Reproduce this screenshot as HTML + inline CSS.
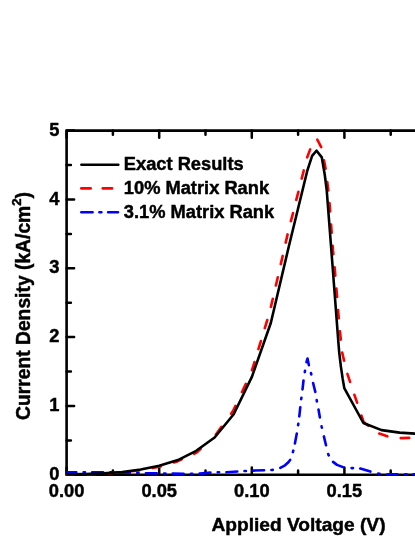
<!DOCTYPE html>
<html><head><meta charset="utf-8"><title>Chart</title>
<style>html,body{margin:0;padding:0;background:#fff;}body{width:415px;height:537px;overflow:hidden;font-family:"Liberation Sans",sans-serif;}svg{display:block;will-change:transform;}</style>
</head><body>
<svg width="415" height="537" viewBox="0 0 415 537">
<rect width="415" height="537" fill="#fff"/>
<path d="M66.6,474.8 V130.6 H420 M66.6,474.8 H420" stroke="#000" stroke-width="2.6" fill="none" stroke-linejoin="round" stroke-linecap="round"/>
<path d="M66.6,474.8 h7.5 M66.6,440.4 h4.3 M66.6,406.0 h7.5 M66.6,371.5 h4.3 M66.6,337.1 h7.5 M66.6,302.7 h4.3 M66.6,268.3 h7.5 M66.6,233.9 h4.3 M66.6,199.4 h7.5 M66.6,165.0 h4.3 M66.6,130.6 h7.5 M66.6,474.8 v-7.2 M66.6,130.6 v7.2 M112.9,474.8 v-4.2 M112.9,130.6 v4.2 M159.2,474.8 v-7.2 M159.2,130.6 v7.2 M205.5,474.8 v-4.2 M205.5,130.6 v4.2 M251.8,474.8 v-7.2 M251.8,130.6 v7.2 M298.1,474.8 v-4.2 M298.1,130.6 v4.2 M344.4,474.8 v-7.2 M344.4,130.6 v7.2 M390.7,474.8 v-4.2 M390.7,130.6 v4.2" stroke="#000" stroke-width="2.5" fill="none" stroke-linecap="round"/>
<clipPath id="c"><rect x="66.6" y="130.6" width="360" height="345.6"/></clipPath><g clip-path="url(#c)">
<path d="M66.6,474.6 L73.5,474.5 M87.1,474.2 L95.5,474.0 M109.0,473.3 L117.4,472.5 M130.9,471.3 L139.3,470.5 M152.7,468.1 L159.2,466.8 L160.9,466.3 M173.9,462.4 L177.9,461.2 L181.7,459.4 M194.1,453.8 L196.4,452.7 L200.7,448.8 M215.9,434.5 L221.5,426.8 M231.1,413.7 L233.0,411.0 L235.5,405.8 M242.0,392.0 L245.9,383.8 M252.0,370.2 L254.5,362.1 M258.4,349.1 L260.9,341.1 M264.8,328.1 L267.3,320.0 M270.9,306.9 L272.8,298.8 M275.9,285.5 L277.8,277.3 M280.8,264.1 L282.7,255.9 M285.7,242.6 L287.6,234.4 M290.9,221.2 L293.0,213.1 M296.3,199.9 L298.4,191.8 M301.7,178.6 L303.8,170.4 M307.2,157.3 L310.2,149.4 M317.3,139.7 L321.2,147.1 M324.0,160.3 L325.6,168.6 M327.3,182.1 L328.4,190.4 M329.5,203.1 L329.9,207.2 L330.2,211.4 M331.1,224.5 L331.4,228.5 L331.7,232.8 M332.7,245.9 L333.0,250.4 L333.4,254.2 M334.6,267.2 L335.0,271.3 L335.3,275.6 M336.4,288.6 L336.7,292.3 L337.1,297.0 M338.1,310.0 L338.4,314.0 L338.8,318.3 M340.0,331.3 L340.4,335.4 L340.8,339.7 M342.2,352.6 L344.1,360.7 M347.4,373.9 L350.1,381.9 M354.4,394.8 L357.1,402.7 M361.5,415.6 L363.6,421.9 L365.0,423.0 M366.1,423.9 L368.4,425.7 M379.3,433.6 L387.3,436.3 M400.8,438.1 L408.9,437.9 L409.2,437.9" fill="none" stroke="#ff0000" stroke-width="2.6" stroke-linecap="round" stroke-linejoin="round"/>
<path d="M66.4,472.2 L76.3,472.2 M83.6,472.3 L85.0,472.3 M92.2,472.3 L103.1,472.4 M110.4,472.4 L111.8,472.4 M119.0,472.6 L129.9,472.8 M137.2,473.0 L138.6,473.0 M145.9,473.2 L150.0,473.3 L156.8,473.4 M164.1,473.5 L165.5,473.5 M172.7,473.6 L183.6,473.7 M190.9,473.7 L192.3,473.7 M199.6,473.6 L200.0,473.6 L210.4,472.6 M217.7,472.3 L219.1,472.3 M226.4,472.2 L237.3,471.5 M244.5,471.0 L245.9,471.0 M253.2,470.6 L264.1,470.2 M271.4,470.0 L272.1,470.0 L272.8,469.9 M280.3,467.8 L285.0,465.3 L288.4,462.2 L290.1,459.9 M292.9,452.1 L293.1,451.4 L293.3,450.7 M294.9,443.4 L296.8,433.5 M298.1,425.2 L298.2,424.5 L298.3,423.8 M299.3,416.4 L300.3,407.2 M301.2,399.1 L301.3,398.4 L301.4,397.7 M302.5,389.4 L303.5,380.5 M304.8,372.1 L304.9,371.4 L305.0,370.7 M306.5,362.2 L307.5,358.6 L308.9,365.2 M311.0,373.1 L311.2,373.8 L311.3,374.5 M313.1,383.0 L315.3,391.9 M316.7,400.1 L316.8,400.8 L316.9,401.5 M318.5,409.6 L319.9,417.4 M321.6,426.3 L321.7,427.0 L321.9,427.7 M323.9,436.4 L326.0,445.3 M328.2,454.0 L328.4,454.7 L328.7,455.3 M333.1,461.9 L337.0,464.9 L343.0,467.1 M351.6,468.1 L352.3,468.1 L353.0,468.1 M360.3,468.5 L370.4,471.6 M378.2,473.5 L378.9,473.7 L379.6,473.8 M387.4,474.3 L397.3,474.3 M405.2,474.3 L406.6,474.3 M413.4,474.3 L418.7,474.3" fill="none" stroke="#0000ff" stroke-width="2.6" stroke-linecap="round" stroke-linejoin="round"/>
<path d="M66.6,474.4 L85.1,474.1 L103.6,473.4 L122.2,472.0 L140.7,469.5 L159.2,465.7 L177.9,460.1 L196.2,450.8 L214.6,437.5 L233.7,414.2 L252.0,376.6 L270.8,323.0 L288.8,246.5 L307.4,170.3 L312.1,155.8 L316.6,150.7 L321.8,157.4 L324.8,175.0 L326.7,190.0 L332.1,260.0 L338.2,340.0 L339.2,352.3 L340.9,366.6 L342.7,378.9 L344.3,388.1 L363.4,423.0 L381.6,430.1 L399.6,432.6 L415.0,433.6 L420.0,433.8" fill="none" stroke="#000" stroke-width="2.6" stroke-linejoin="round"/>
</g>
<g font-family="Liberation Sans, sans-serif" font-weight="bold" font-size="18.3" fill="#000" stroke="#000" stroke-width="0.45" stroke-linejoin="round">
<text x="59.3" y="479.9" text-anchor="end">0</text>
<text x="59.3" y="411.1" text-anchor="end">1</text>
<text x="59.3" y="342.2" text-anchor="end">2</text>
<text x="59.3" y="273.4" text-anchor="end">3</text>
<text x="59.3" y="204.5" text-anchor="end">4</text>
<text x="59.3" y="135.7" text-anchor="end">5</text>
<text x="66.6" y="496.8" text-anchor="middle">0.00</text>
<text x="159.2" y="496.8" text-anchor="middle">0.05</text>
<text x="251.8" y="496.8" text-anchor="middle">0.10</text>
<text x="344.4" y="496.8" text-anchor="middle">0.15</text>
<text x="298.5" y="530.8" font-size="19.15" text-anchor="middle">Applied Voltage (V)</text>
<text transform="translate(29.7,306.0) rotate(-90)" font-size="19.3" text-anchor="middle">Current Density (kA/cm<tspan font-size="13.2" dy="-8.8">2</tspan><tspan dy="8.8">)</tspan></text>
<text x="123.8" y="170.2">Exact Results</text>
<text x="123.8" y="194.3">10% Matrix Rank</text>
<text x="123.8" y="218.2">3.1% Matrix Rank</text>
</g>
<path d="M81.4,164.7 H118.3" stroke="#000" stroke-width="2.6" stroke-linecap="round"/>
<path d="M81.3,188.4 H118" stroke="#ff0000" stroke-width="2.6" stroke-linecap="round" stroke-dasharray="9.4 12"/>
<path d="M81.3,212.3 H118" stroke="#0000ff" stroke-width="2.6" stroke-linecap="round" stroke-dasharray="11.3 6.8 2 6.7"/>
</svg>
</body></html>
